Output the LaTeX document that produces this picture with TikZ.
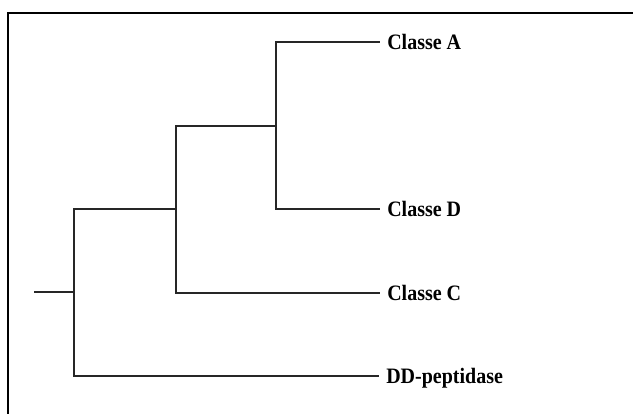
\documentclass[tikz,border=0pt]{standalone}
\usepackage{fontspec}
\setmainfont{Liberation Serif}
\begin{document}
\begin{tikzpicture}[x=0.75pt,y=-0.75pt,
  branch/.style={line width=1.6pt, draw=black!85, line cap=rect},
  frameline/.style={line width=1.9pt, draw=black},
  leaf/.style={anchor=west, inner xsep=6pt, inner ysep=0pt, text height=10.5pt, text depth=0pt,
    font=\bfseries\fontsize{15}{18}\selectfont, yscale=1.1}]
\useasboundingbox (0,0) rectangle (633,414);
\draw[frameline] (8,414) -- (8,13) -- (640,13);
\coordinate (s) at (35,292);
\coordinate (r) at (74,292);
\coordinate (n1) at (176,209);
\coordinate (n2) at (276,126);
\node[leaf] (A) at (379,42) {Classe A};
\node[leaf] (D) at (379,209) {Classe D};
\node[leaf] (C) at (379,293) {Classe C};
\node[leaf] (DD) at (378,376) {DD-peptidase};
\draw[branch] (s) -- (r);
\draw[branch] (r) |- (n1);
\draw[branch] (r) |- (DD.west);
\draw[branch] (n1) |- (n2);
\draw[branch] (n1) |- (C.west);
\draw[branch] (n2) |- (A.west);
\draw[branch] (n2) |- (D.west);
\end{tikzpicture}
\end{document}
